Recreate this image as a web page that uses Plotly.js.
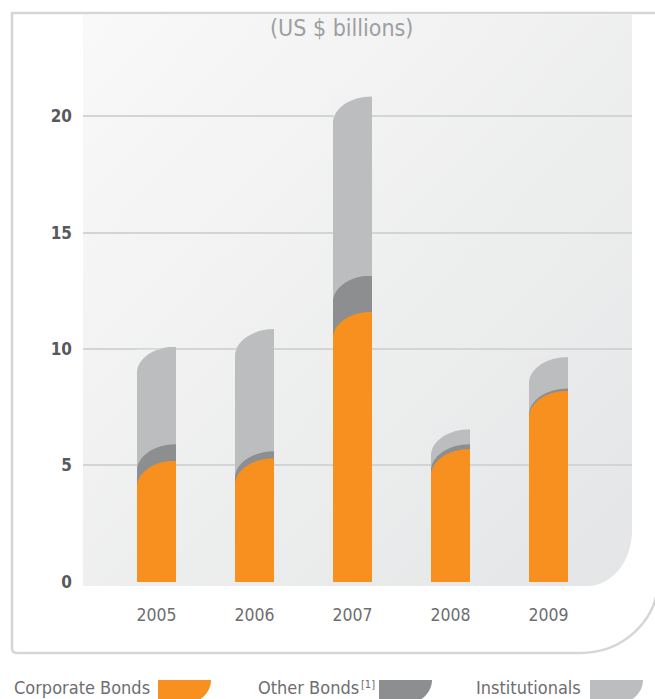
<!DOCTYPE html>
<html>
<head>
<meta charset="utf-8">
<script src="https://cdn.plot.ly/plotly-3.0.1.min.js"></script>
<style>
  html, body { margin: 0; padding: 0; background: #ffffff; }
  #chart { width: 655px; height: 699px; }
</style>
</head>
<body>
<div id="chart"></div>
<script>
// ---------------- DATA ----------------
const categories = ['2005', '2006', '2007', '2008', '2009'];
const corporateBonds = [5.2, 5.3, 11.6, 5.7, 8.2];
const otherBonds = [0.7, 0.3, 1.55, 0.2, 0.1];
const institutionals = [4.2, 5.25, 7.7, 0.65, 1.35];
const yTickVals = [0, 5, 10, 15, 20];
const yTickText = ['0', '5', '10', '15', '20'];
const titleText = '(US $ billions)';
const seriesNames = ['Corporate Bonds', 'Other Bonds', 'Institutionals'];
const footnoteMark = '[1]';

// ---------------- STYLE ----------------
const COLORS = ['#F7901E', '#8D8E90', '#BCBDBF'];
const GRID = '#d3d4d5', GRID_W = 1.6;
const FONT = '"DejaVu Sans Condensed", "Liberation Sans Narrow", sans-serif';
const W = 655, H = 699;
const M = { l: 83, r: 23, t: 15, b: 113 };
const PW = W - M.l - M.r, PH = H - M.t - M.b;
const PX_PER_CAT = 98;
const X_RANGE = [-0.75, -0.75 + PW / PX_PER_CAT];
const Y_RANGE = [-0.19, 24.35];
const BAR_W = 39 / PX_PER_CAT;
const CORNER_RY = 1.15;   // vertical radius of the rounded top-left corner (data units)
const EXT = 0.06;         // small overlap upward to hide pixel seams
const K = 0.5523;
const BG0 = [249, 249, 249], BG1 = [228, 229, 230];

// pixel -> paper helpers for decorations
const px2x = p => (p - M.l) / PW;
const py2y = p => (M.t + PH - p) / PH;
const f = v => v.toFixed(4);

function mix(t) {
  t = Math.max(0, Math.min(1, t));
  const c = BG0.map((a, i) => Math.round(a + (BG1[i] - a) * t));
  return 'rgb(' + c.join(',') + ')';
}

// ---------------- TRACES ----------------
const seriesValues = [corporateBonds, otherBonds, institutionals];
const traces = seriesValues.map((vals, s) => ({
  type: 'bar',
  name: seriesNames[s],
  x: categories,
  y: vals,
  width: BAR_W,
  marker: { color: COLORS[s], line: { width: 0 } },
  showlegend: false,
  hoverinfo: 'x+y+name'
}));

// ---------------- ROUNDED-CORNER PATCHES (from data) ----------------
const shapes = [];
const cum = categories.map((c, i) => {
  const c1 = corporateBonds[i];
  const c2 = c1 + otherBonds[i];
  const c3 = c2 + institutionals[i];
  return [c1, c2, c3];
});
for (let level = 0; level < 3; level++) {
  categories.forEach((c, i) => {
    const T = cum[i][level];
    const L = i - BAR_W / 2, R = i + BAR_W / 2;
    let fill;
    if (level < 2) fill = COLORS[level + 1];
    else {
      const u = (i - X_RANGE[0]) / (X_RANGE[1] - X_RANGE[0]);
      const v = (Y_RANGE[1] - (T - CORNER_RY / 2)) / (Y_RANGE[1] - Y_RANGE[0]);
      fill = mix((u + v) / 2);
    }
    const path = 'M ' + f(L) + ',' + f(T + EXT) +
      ' L ' + f(L) + ',' + f(T - CORNER_RY) +
      ' C ' + f(L) + ',' + f(T - CORNER_RY + K * CORNER_RY) + ' ' +
      f(R - K * BAR_W) + ',' + f(T) + ' ' + f(R) + ',' + f(T) +
      ' L ' + f(R) + ',' + f(T + EXT) + ' Z';
    shapes.push({
      type: 'path', xref: 'x', yref: 'y', path: path,
      fillcolor: fill, line: { width: 0 }, layer: 'above'
    });
    // gridlines showing through the open top corner
    if (level === 2) {
      yTickVals.forEach(g => {
        if (g > 0 && g > T - CORNER_RY && g < T) {
          const dy = (g - (T - CORNER_RY)) / CORNER_RY;
          const xe = R - BAR_W * Math.sqrt(Math.max(0, 1 - dy * dy));
          shapes.push({ type: 'line', xref: 'x', yref: 'y',
            x0: L, x1: xe, y0: g, y1: g,
            line: { color: GRID, width: GRID_W }, layer: 'above' });
        }
      });
    }
  });
}

// ---------------- PANEL BORDER ----------------
(function () {
  const pts = 'M ' + f(px2x(700)) + ',' + f(py2y(13)) +
    ' L ' + f(px2x(12)) + ',' + f(py2y(13)) +
    ' L ' + f(px2x(12)) + ',' + f(py2y(648)) +
    ' Q ' + f(px2x(12)) + ',' + f(py2y(653)) + ' ' + f(px2x(17)) + ',' + f(py2y(653)) +
    ' L ' + f(px2x(580)) + ',' + f(py2y(653)) +
    ' C ' + f(px2x(580 + K * 78)) + ',' + f(py2y(653)) + ' ' +
    f(px2x(658)) + ',' + f(py2y(580 + K * 73)) + ' ' +
    f(px2x(658)) + ',' + f(py2y(580)) +
    ' L ' + f(px2x(658)) + ',' + f(py2y(13));
  shapes.push({ type: 'path', xref: 'paper', yref: 'paper', path: pts,
    line: { color: '#d6d6d6', width: 2.5 }, fillcolor: 'rgba(0,0,0,0)', layer: 'below' });
})();

// ---------------- LEGEND (custom) ----------------
const legendTextX = [12, 256, 474];
const legendSwatch = [[158, 211], [379, 432], [590, 643]];
const annotations = [];
seriesNames.forEach((name, s) => {
  annotations.push({
    xref: 'paper', yref: 'paper', x: px2x(legendTextX[s]), y: py2y(688),
    xanchor: 'left', yanchor: 'middle', showarrow: false, text: name,
    font: { family: FONT, size: 18, color: '#6d6e71' }
  });
  const xl = legendSwatch[s][0], xr = legendSwatch[s][1];
  const top = 680, bot = 705, rx = 30, ry = 25;
  const p = 'M ' + f(px2x(xl)) + ',' + f(py2y(top)) +
    ' L ' + f(px2x(xr)) + ',' + f(py2y(top)) +
    ' C ' + f(px2x(xr)) + ',' + f(py2y(top + K * ry)) + ' ' +
    f(px2x(xr - rx + K * rx)) + ',' + f(py2y(top + ry)) + ' ' +
    f(px2x(xr - rx)) + ',' + f(py2y(top + ry)) +
    ' L ' + f(px2x(xl)) + ',' + f(py2y(bot)) + ' Z';
  shapes.push({ type: 'path', xref: 'paper', yref: 'paper', path: p,
    fillcolor: COLORS[s], line: { width: 0 } });
});
// footnote marker for "Other Bonds"
annotations.push({
  xref: 'paper', yref: 'paper', x: px2x(359), y: py2y(684),
  xanchor: 'left', yanchor: 'middle', showarrow: false, text: footnoteMark,
  font: { family: FONT, size: 11, color: '#6d6e71' }
});

// title
annotations.push({
  xref: 'paper', yref: 'paper', x: px2x(341), y: py2y(28),
  xanchor: 'center', yanchor: 'middle', showarrow: false, text: titleText,
  font: { family: FONT, size: 23, color: '#9d9fa2' }
});

// ---------------- BACKGROUND GRADIENT IMAGE ----------------
const rcx = 45, rcy = 55;
const bgSvg = '<svg xmlns="http://www.w3.org/2000/svg" width="' + PW + '" height="' + PH +
  '" viewBox="0 0 ' + PW + ' ' + PH + '"><defs><linearGradient id="g" x1="0" y1="0" x2="1" y2="1">' +
  '<stop offset="0" stop-color="rgb(' + BG0.join(',') + ')"/>' +
  '<stop offset="1" stop-color="rgb(' + BG1.join(',') + ')"/></linearGradient></defs>' +
  '<path fill="url(#g)" d="M0,0 H' + PW + ' V' + (PH - rcy) +
  ' C' + PW + ',' + (PH - rcy + K * rcy) + ' ' + (PW - rcx + K * rcx) + ',' + PH + ' ' + (PW - rcx) + ',' + PH +
  ' H0 Z"/></svg>';

const layout = {
  width: W, height: H,
  margin: M,
  paper_bgcolor: '#ffffff',
  plot_bgcolor: 'rgba(0,0,0,0)',
  barmode: 'stack',
  showlegend: false,
  font: { family: FONT, color: '#6d6e71' },
  xaxis: {
    type: 'category',
    range: X_RANGE,
    showgrid: false, zeroline: false, showline: false,
    ticks: '', ticklabelstandoff: 16,
    tickfont: { family: FONT, size: 17.5, color: '#6d6e71' },
    fixedrange: true
  },
  yaxis: {
    range: Y_RANGE,
    tickmode: 'array', tickvals: yTickVals, ticktext: yTickText,
    showgrid: true, gridcolor: GRID, gridwidth: GRID_W,
    zeroline: true, zerolinecolor: 'rgba(0,0,0,0)',
    showline: false, ticks: '', ticklabelstandoff: 10,
    tickfont: { family: FONT, size: 17, color: '#58595b', weight: 'bold' },
    fixedrange: true
  },
  images: [{
    source: 'data:image/svg+xml;charset=utf-8,' + encodeURIComponent(bgSvg),
    xref: 'paper', yref: 'paper', x: 0, y: 1, sizex: 1, sizey: 1,
    xanchor: 'left', yanchor: 'top', sizing: 'stretch', layer: 'below'
  }],
  shapes: shapes,
  annotations: annotations
};

Plotly.newPlot('chart', traces, layout, { displayModeBar: false });
</script>
</body>
</html>
